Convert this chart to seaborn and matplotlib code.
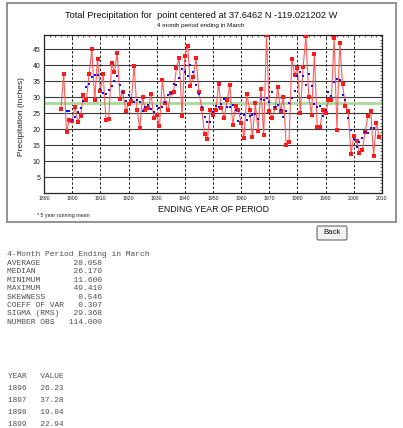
import numpy as np
import pandas as pd
import matplotlib
matplotlib.use("Agg")
import matplotlib.pyplot as plt
import seaborn as sns
from matplotlib.patches import Rectangle, FancyBboxPatch
from matplotlib.ticker import MultipleLocator

# ---------------- data ----------------
years = list(range(1896, 2010))
precip = [
    26.23, 37.28, 19.04, 22.94, 22.6, 27.0, 22.2, 24.2, 30.6, 29.0, 37.1, 45.0, 29.0, 42.0,
    32.0, 37.1, 22.8, 23.0, 40.6, 37.8, 43.8, 29.5, 31.6, 25.7,
    27.7, 28.8, 39.8, 26.1, 20.3, 30.0, 25.9, 26.5, 31.0, 23.6,
    24.5, 21.0, 35.4, 28.1, 25.9, 31.4, 31.7, 39.0, 42.1, 24.2,
    42.9, 46.0, 33.4, 36.2, 42.1, 31.6, 26.3, 18.4, 16.8, 25.9,
    24.3, 26.0, 34.1, 26.5, 23.5, 29.0, 33.7, 21.2, 27.1, 25.9,
    22.0, 17.1, 31.0, 26.1, 17.4, 28.1, 19.5, 32.5, 18.0, 49.41,
    25.7, 23.3, 26.5, 33.0, 25.5, 30.0, 15.0, 16.0, 42.0, 37.0,
    39.0, 25.0, 39.5, 49.2, 30.0, 24.5, 43.5, 20.5, 20.5, 26.0,
    25.0, 29.0, 29.0, 48.4, 19.7, 47.0, 34.0, 27.1, 25.6, 12.1,
    17.8, 16.4, 12.6, 13.5, 19.0, 24.2, 25.6, 11.6, 22.0, 17.6,
]
average = 28.058
x_ticks = list(range(1890, 2011, 10))
y_ticks = list(range(5, 50, 5))

title = "Total Precipitation for  point centered at 37.6462 N -119.021202 W"
subtitle = "4 month period ending in March"
ylabel = "Precipitation (inches)"
xlabel = "ENDING YEAR OF PERIOD"
footnote = "* 5 year running mean"

stat_header = "4-Month Period Ending in March"
stat_labels = ["AVERAGE", "MEDIAN", "MINIMUM", "MAXIMUM", "SKEWNESS",
               "COEFF OF VAR", "SIGMA (RMS)", "NUMBER OBS"]
stat_values = ["28.058", "26.170", "11.600", "49.410", "0.546",
               "0.307", "29.368", "114.000"]
table_years = ["1896", "1897", "1898", "1899"]
table_values = ["26.23", "37.28", "19.04", "22.94"]

# ---------------- style ----------------
sns.set_style("white")
plt.rcParams['font.family'] = ['Liberation Sans', 'DejaVu Sans']

W, H = 403, 428
fig = plt.figure(figsize=(W / 100, H / 100), dpi=100)
fig.patch.set_facecolor("white")

def fx(px):
    return px / W

def fy(py):
    return 1 - py / H

# outer frame
fig.patches.append(Rectangle((fx(7), fy(222)), (396 - 7) / W, (222 - 3) / H,
                             transform=fig.transFigure, fill=False,
                             edgecolor="#8a8a8a", lw=1.3))

ax = fig.add_axes([fx(44), fy(193), (382 - 44) / W, (193 - 35) / H])

df = pd.DataFrame({"year": years, "precip": precip})
df["mean5"] = df["precip"].rolling(5, center=True).mean()

# grid
for yv in y_ticks:
    ax.axhline(yv, color="#3a3a3a", lw=0.8, zorder=1)
for xv in x_ticks[1:-1]:
    ax.axvline(xv, color="#222222", lw=0.7, ls=(0, (2.5, 2.0)), zorder=1)
ax.axhline(average, color="#a6d99a", lw=2.0, zorder=2)

sns.lineplot(data=df, x="year", y="precip", color="#ff5a5a", lw=0.8,
             marker="s", markersize=2.3, markeredgewidth=0,
             markerfacecolor="#ff1a1a", ax=ax, zorder=3)
sns.scatterplot(data=df.dropna(), x="year", y="mean5", color="#1010ff", marker="s",
                s=3, linewidth=0, ax=ax, zorder=4)

ax.set_xlim(1890, 2010)
ax.set_ylim(0, 49.41)
ax.set_xticks(x_ticks)
ax.set_yticks(y_ticks)
ax.set_xticklabels([str(v) for v in x_ticks], fontsize=3.7, color="#222222")
ax.set_yticklabels([str(v) for v in y_ticks], fontsize=5.0, color="#222222")
ax.yaxis.set_minor_locator(MultipleLocator(1))
ax.xaxis.set_minor_locator(MultipleLocator(2))
ax.tick_params(axis="both", which="major", length=2, width=0.6, direction="in",
               pad=2.5, top=True, right=True)
ax.tick_params(axis="both", which="minor", length=1.2, width=0.5, direction="in",
               top=True, right=True)
ax.set_xlabel("")
ax.set_ylabel("")
for s in ax.spines.values():
    s.set_color("#222222")
    s.set_linewidth(0.9)

# texts
fig.text(fx(201), fy(15), title, ha="center", va="center", fontsize=6.7, color="#111111")
fig.text(fx(201), fy(25), subtitle, ha="center", va="center", fontsize=4.5, color="#111111")
fig.text(fx(22), fy(117), ylabel, ha="center", va="center", rotation=90,
         fontsize=6.0, color="#222222")
fig.text(fx(213), fy(209), xlabel, ha="center", va="center", fontsize=6.3, color="#111111")
fig.text(fx(37), fy(216), footnote, ha="left", va="center", fontsize=3.8, color="#222222")

# back button
fig.patches.append(FancyBboxPatch((fx(317), fy(240)), 30 / W, 14 / H,
                                  boxstyle="round,pad=0,rounding_size=0.004",
                                  transform=fig.transFigure, facecolor="#f2f2f2",
                                  edgecolor="#6a6a6a", lw=0.8))
fig.text(fx(332), fy(233), "Back", ha="center", va="center", fontsize=5.6, color="#111111")

# statistics text
mono = ["Liberation Mono", "DejaVu Sans Mono"]
fig.text(fx(7), fy(255), stat_header, ha="left", va="center", fontsize=5.8,
         family=mono, color="#505050")
for i, (lab, val) in enumerate(zip(stat_labels, stat_values)):
    line = f"{lab:<13}{val:>7}"
    fig.text(fx(7), fy(263.5 + i * 8.4), line, ha="left", va="center", fontsize=5.8,
             family=mono, color="#505050")

fig.text(fx(8), fy(376), "YEAR   VALUE", ha="left", va="center", fontsize=5.6,
         family=mono, color="#505050")
for i, (yy, vv) in enumerate(zip(table_years, table_values)):
    fig.text(fx(8), fy(389 + i * 11.7), f"{yy}   {vv}", ha="left", va="center",
             fontsize=5.6, family=mono, color="#505050")

fig.savefig("out.png", dpi=100, facecolor="white")
